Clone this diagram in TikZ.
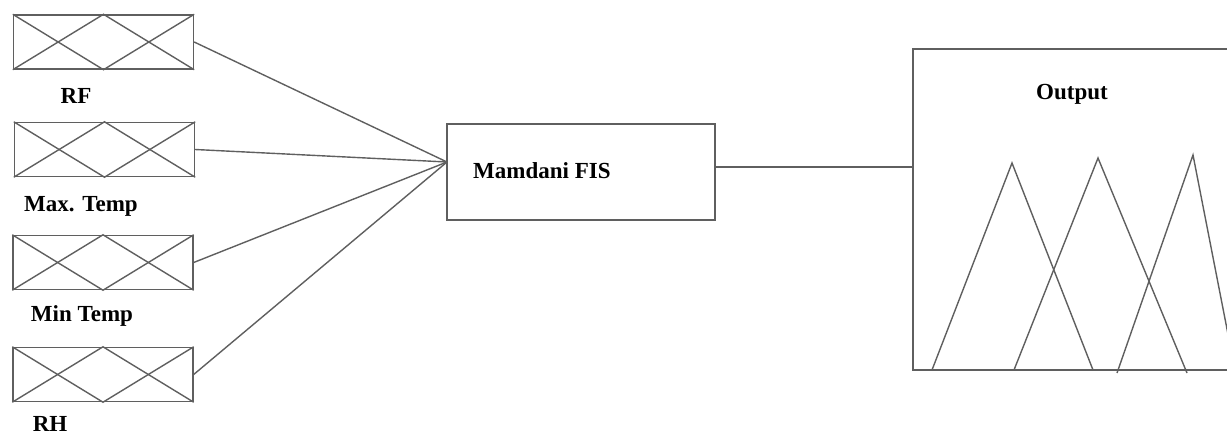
\documentclass[tikz,border=0pt]{standalone}
\usepackage{fontspec}
\setmainfont{Liberation Serif}
\usetikzlibrary{calc}
\definecolor{ln}{RGB}{95,95,95}
\begin{document}
\begin{tikzpicture}[x=1pt,y=-1pt,
  ln/.style={draw=ln,line width=1.4pt},
  lbl/.style={font=\fontsize{23}{27}\selectfont\bfseries,inner sep=0pt,text=black},
  inbox/.style={ln,rectangle,inner sep=0pt,minimum width=180pt,minimum height=54pt},
]
\useasboundingbox (0,0) rectangle (1227,436);
\node[lbl] (l1) at (76,96) {RF};
\node[lbl] (l2) at (81,206) {Max. Temp};
\node[lbl] (l3) at (82,316) {Min Temp};
\node[lbl] (l4) at (50,424) {RH};
\node[lbl] (outt) at (1072,94) {Output};
\begin{scope}
\clip (0,0) rectangle (1227,436);
% input boxes
\node[inbox] (b1) at (103.5,42) {};
\node[inbox] (b2) at (104.5,149.5) {};
\node[inbox] (b3) at (103,262.5) {};
\node[inbox] (b4) at (103,374.5) {};
\foreach \b in {b1,b2,b3,b4}{
  \draw[ln] (\b.north west) -- ($(\b.south west)!0.5!(\b.south east)$) -- (\b.north east);
  \draw[ln] (\b.south west) -- ($(\b.north west)!0.5!(\b.north east)$) -- (\b.south east);
}
% Mamdani
\node[ln,rectangle,inner sep=0pt,minimum width=268pt,minimum height=96pt] (fis) at (581,172) {};
\node[lbl,anchor=west] (fist) at (473,171) {Mamdani FIS};
\coordinate (conv) at (447,162);
\draw[ln] (b1.east) -- (conv);
\draw[ln] (b2.east) -- (conv);
\draw[ln] (b3.east) -- (conv);
\draw[ln] (b4.east) -- (conv);
% output
\coordinate (otl) at (913,49);
\coordinate (obl) at (913,370);
\draw[ln] (1240,49) -- (otl) -- (obl) -- (1240,370);
\coordinate (oin) at (913,167);
\draw[ln] (fis.east |- oin) -- (oin);
\coordinate (t1a) at (932,370);
\coordinate (t1b) at (1012,163);
\coordinate (t1c) at (1093,370);
\coordinate (t2a) at (1014,370);
\coordinate (t2b) at (1098,158);
\coordinate (t2c) at (1187,373);
\coordinate (t3a) at (1117,373);
\coordinate (t3b) at (1193,155);
\coordinate (t3c) at (1235,370);
\draw[ln] (t1a) -- (t1b) -- (t1c);
\draw[ln] (t2a) -- (t2b) -- (t2c);
\draw[ln] (t3a) -- (t3b) -- (t3c);
\end{scope}
\end{tikzpicture}
\end{document}
